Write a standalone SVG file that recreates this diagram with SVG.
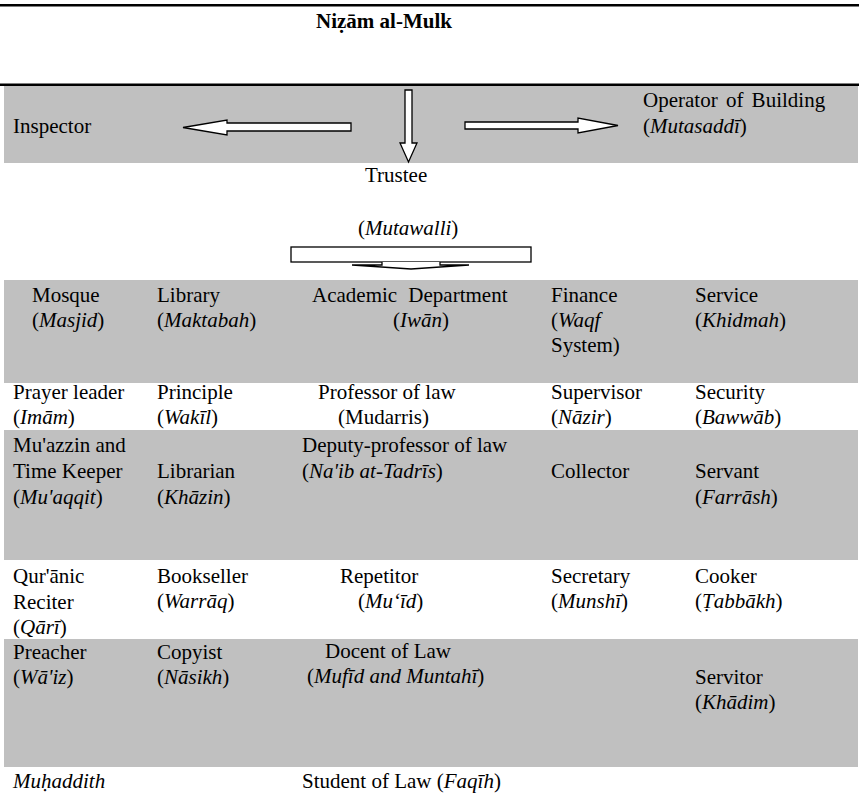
<svg xmlns="http://www.w3.org/2000/svg" width="859" height="804" viewBox="0 0 859 804">
<style>
text{font-family:"Liberation Serif","Times New Roman",serif;font-size:21px;fill:#000}
.i{font-style:italic}
.band{fill:#c0c0c0}
.arrow{fill:#fff;stroke:#000;stroke-width:1.3}
</style>
<rect x="0" y="0" width="859" height="804" fill="#fff"/>
<!-- bands -->
<rect x="0" y="4" width="859" height="2.5" fill="#000"/>
<rect class="band" x="4" y="85" width="854" height="78"/>
<rect x="0" y="83.5" width="859" height="2.5" fill="#000"/>
<rect class="band" x="4" y="280" width="854" height="103"/>
<rect class="band" x="4" y="430" width="854" height="130"/>
<rect class="band" x="4" y="639" width="854" height="128"/>

<g id="nizam"><text x="316" y="28" font-weight="bold" font-size="25">Niẓām al-Mulk</text></g>
<g id="inspector"><text x="13" y="133">Inspector</text></g>
<g id="operator"><text x="643" y="107" word-spacing="3">Operator of Building</text><text x="643" y="133">(<tspan class="i">Mutasaddī</tspan>)</text></g>
<g id="trustee"><text x="365" y="182">Trustee</text><text x="358" y="235">(<tspan class="i">Mutawalli</tspan>)</text></g>

<g id="connectors">
<path class="arrow" d="M351,123 L227,123 L227,120 L183,127.5 L227,135 L227,131 L351,131 Z"/>
<path class="arrow" d="M465,122 L578,122 L578,118 L618,125.5 L578,133 L578,129 L465,129 Z"/>
<path class="arrow" d="M405,90 L412,90 L412,143 L417,143 L408.5,162 L400,143 L405,143 Z"/>
<rect class="arrow" x="291" y="247" width="240" height="15"/>
<path class="arrow" d="M382,262 L382,265 L352,265 L411,269 L469,265 L440,265 L440,262"/>
</g>

<g id="mosque"><text x="32" y="302">Mosque</text><text x="32" y="327">(<tspan class="i">Masjid</tspan>)</text></g>
<g id="library"><text x="157" y="302">Library</text><text x="157" y="327">(<tspan class="i">Maktabah</tspan>)</text></g>
<g id="academic"><text x="312" y="302" word-spacing="6">Academic Department</text><text x="393" y="327">(<tspan class="i">Iwān</tspan>)</text></g>
<g id="finance"><text x="551" y="302">Finance</text><text x="551" y="327">(<tspan class="i">Waqf</tspan></text><text x="551" y="352">System)</text></g>
<g id="service"><text x="695" y="302">Service</text><text x="695" y="327">(<tspan class="i">Khidmah</tspan>)</text></g>

<g id="imam"><text x="13" y="399">Prayer leader</text><text x="13" y="424">(<tspan class="i">Imām</tspan>)</text></g>
<g id="wakil"><text x="157" y="399">Principle</text><text x="157" y="424">(<tspan class="i">Wakīl</tspan>)</text></g>
<g id="mudarris"><text x="318" y="399">Professor of law</text><text x="338" y="424">(Mudarris)</text></g>
<g id="nazir"><text x="551" y="399">Supervisor</text><text x="551" y="424">(<tspan class="i">Nāzir</tspan>)</text></g>
<g id="bawwab"><text x="695" y="399">Security</text><text x="695" y="424">(<tspan class="i">Bawwāb</tspan>)</text></g>

<g id="muaqqit"><text x="13" y="452">Mu'azzin and</text><text x="13" y="478">Time Keeper</text><text x="13" y="504">(<tspan class="i">Mu'aqqit</tspan>)</text></g>
<g id="khazin"><text x="157" y="478">Librarian</text><text x="157" y="504">(<tspan class="i">Khāzin</tspan>)</text></g>
<g id="naib"><text x="302" y="452">Deputy-professor of law</text><text x="302" y="478">(<tspan class="i">Na'ib at-Tadrīs</tspan>)</text></g>
<g id="collector"><text x="551" y="478">Collector</text></g>
<g id="farrash"><text x="695" y="478">Servant</text><text x="695" y="504">(<tspan class="i">Farrāsh</tspan>)</text></g>

<g id="qari"><text x="13" y="583">Qur'ānic</text><text x="13" y="609">Reciter</text><text x="13" y="634">(<tspan class="i">Qārī</tspan>)</text></g>
<g id="warraq"><text x="157" y="583">Bookseller</text><text x="157" y="608">(<tspan class="i">Warrāq</tspan>)</text></g>
<g id="muid"><text x="340" y="583">Repetitor</text><text x="358" y="608">(<tspan class="i">Mu‘īd</tspan>)</text></g>
<g id="munshi"><text x="551" y="583">Secretary</text><text x="551" y="608">(<tspan class="i">Munshī</tspan>)</text></g>
<g id="tabbakh"><text x="695" y="583">Cooker</text><text x="695" y="608">(<tspan class="i">Ṭabbākh</tspan>)</text></g>

<g id="waiz"><text x="13" y="659">Preacher</text><text x="13" y="684">(<tspan class="i">Wā'iz</tspan>)</text></g>
<g id="nasikh"><text x="157" y="659">Copyist</text><text x="157" y="684">(<tspan class="i">Nāsikh</tspan>)</text></g>
<g id="mufid"><text x="325" y="658">Docent of Law</text><text x="307" y="683">(<tspan class="i">Mufīd and Muntahī</tspan>)</text></g>
<g id="khadim"><text x="695" y="684">Servitor</text><text x="695" y="709">(<tspan class="i">Khādim</tspan>)</text></g>

<g id="muhaddith"><text x="13" y="788" class="i">Muḥaddith</text></g>
<g id="faqih"><text x="302" y="788">Student of Law (<tspan class="i">Faqīh</tspan>)</text></g>
</svg>
